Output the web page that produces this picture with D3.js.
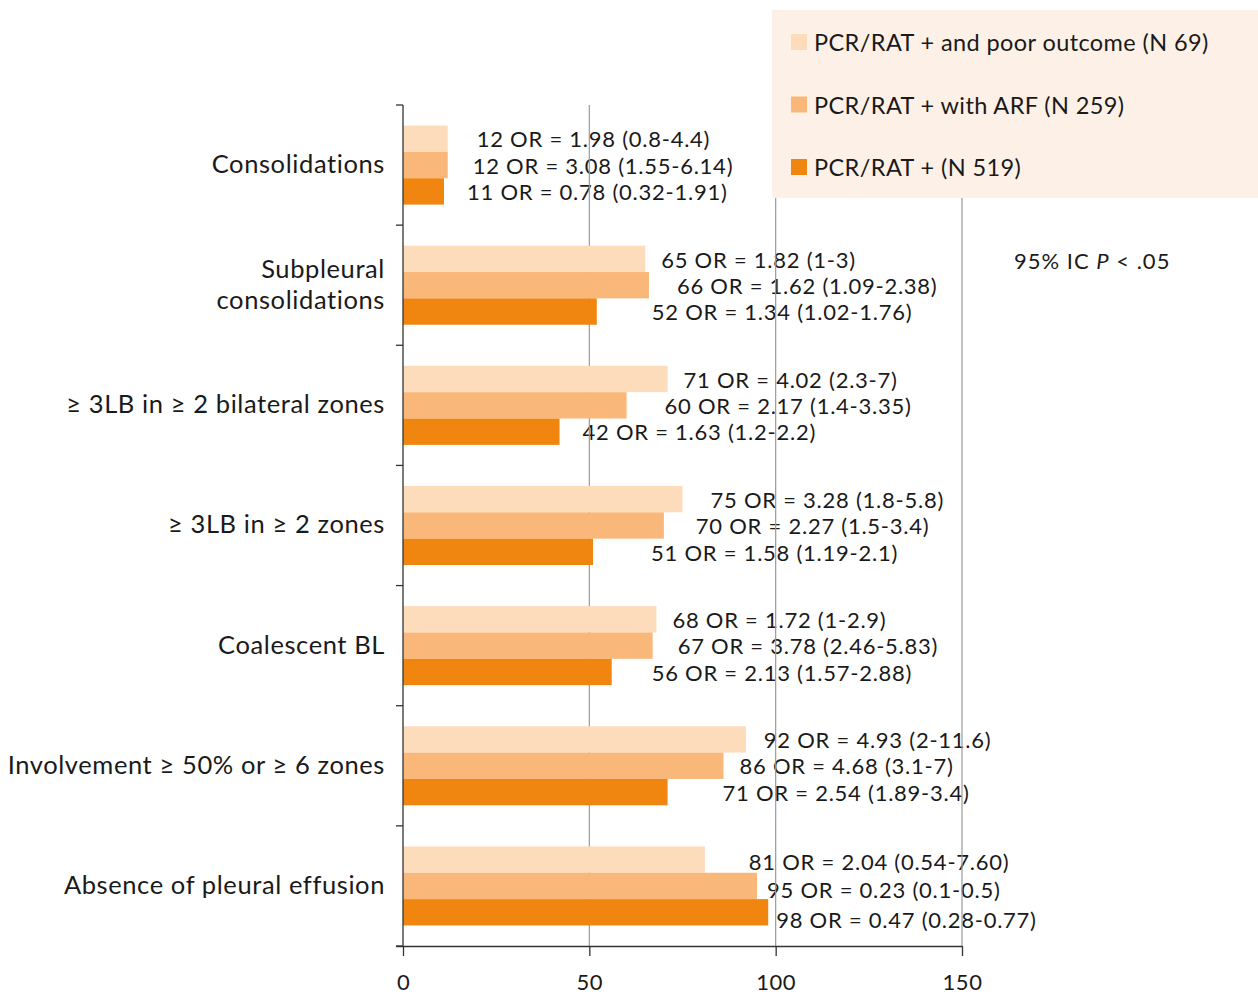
<!DOCTYPE html>
<html>
<head>
<meta charset="utf-8">
<script src="https://cdn.jsdelivr.net/npm/d3@7"></script>
<style>
  body { margin: 0; background: #fff; }
  svg { display: block; font-family: Lato, "Open Sans", sans-serif; }
</style>
</head>
<body>
<svg id="chart" width="1258" height="995"></svg>
<script>
// Lung ultrasound findings: percentage of patients and odds ratios
const categories = [
  "Consolidations",
  "Subpleural\nconsolidations",
  "\u2265 3LB in \u2265 2 bilateral zones",
  "\u2265 3LB in \u2265 2 zones",
  "Coalescent BL",
  "Involvement \u2265 50% or \u2265 6 zones",
  "Absence of pleural effusion"
];
const seriesNames = [
  "PCR/RAT + and poor outcome (N 69)",
  "PCR/RAT + with ARF (N 259)",
  "PCR/RAT + (N 519)"
];
const poorOutcome = [12, 65, 71, 75, 68, 92, 81];
const withARF     = [12, 66, 60, 70, 67, 86, 95];
const allPositive = [11, 52, 42, 51, 56, 71, 98];

const orPoor = ["OR = 1.98 (0.8-4.4)", "OR = 1.82 (1-3)", "OR = 4.02 (2.3-7)", "OR = 3.28 (1.8-5.8)",
                "OR = 1.72 (1-2.9)", "OR = 4.93 (2-11.6)", "OR = 2.04 (0.54-7.60)"];
const orARF  = ["OR = 3.08 (1.55-6.14)", "OR = 1.62 (1.09-2.38)", "OR = 2.17 (1.4-3.35)", "OR = 2.27 (1.5-3.4)",
                "OR = 3.78 (2.46-5.83)", "OR = 4.68 (3.1-7)", "OR = 0.23 (0.1-0.5)"];
const orAll  = ["OR = 0.78 (0.32-1.91)", "OR = 1.34 (1.02-1.76)", "OR = 1.63 (1.2-2.2)", "OR = 1.58 (1.19-2.1)",
                "OR = 2.13 (1.57-2.88)", "OR = 2.54 (1.89-3.4)", "OR = 0.47 (0.28-0.77)"];

const xTicks = [0, 50, 100, 150];
const colors = ["#fddcbb", "#f9b87a", "#f08610"];

// label placement (px gap after bar end, vertical nudge), per series and category
const labelGap = [
  [29, 16, 16, 28, 16, 18, 44],
  [25, 28, 38, 32, 25, 16, 10],
  [23, 55, 23, 58, 40, 55, 8]
];
const labelDy = [
  [1, 1, 1, 1, 1, 1, 3],
  [1, 1, 1, 1, 1, 1, 4],
  [1, 1, 1, 1, 1, 1, 8]
];

const values = [poorOutcome, withARF, allPositive];
const orTexts = [orPoor, orARF, orAll];

const svg = d3.select("#chart");
const plotLeft = 403, plotRight = 962, plotTop = 105, plotBottom = 946;
const ink = "#1a1a1a";

const x = d3.scaleLinear().domain([0, 150]).range([plotLeft, plotRight]);
const y0 = d3.scaleBand().domain(d3.range(categories.length)).range([plotTop, plotBottom]);
const y1 = d3.scaleBand().domain(d3.range(seriesNames.length))
  .range([0, y0.bandwidth()]).paddingInner(0).paddingOuter(0.78);

// value + odds ratio labels
const labels = svg.append("g").attr("font-size", 22).attr("letter-spacing", 0.75).attr("fill", ink);
values.forEach((vals, s) => {
  vals.forEach((v, c) => {
    labels.append("text")
      .attr("x", x(v) + labelGap[s][c])
      .attr("y", y0(c) + y1(s) + y1.bandwidth() / 2 + labelDy[s][c])
      .attr("dy", "0.35em")
      .text(v + " " + orTexts[s][c]);
  });
});

// vertical gridlines
svg.append("g").selectAll("line").data(xTicks.slice(1)).join("line")
  .attr("x1", d => x(d)).attr("x2", d => x(d))
  .attr("y1", plotTop).attr("y2", plotBottom)
  .attr("stroke", "#9a9a9a").attr("stroke-width", 1.2);

// bars
values.forEach((vals, s) => {
  svg.append("g").selectAll("rect").data(vals).join("rect")
    .attr("x", x(0))
    .attr("y", (d, c) => y0(c) + y1(s))
    .attr("width", d => x(d) - x(0))
    .attr("height", y1.bandwidth())
    .attr("fill", colors[s]);
});

// y axis: line with ticks at category boundaries
const yAxis = svg.append("g");
yAxis.append("line").attr("x1", plotLeft).attr("x2", plotLeft).attr("y1", plotTop).attr("y2", plotBottom)
  .attr("stroke", "#333").attr("stroke-width", 1.3);
yAxis.selectAll("line.tick").data(d3.range(categories.length + 1)).join("line")
  .attr("class", "tick")
  .attr("x1", plotLeft - 7).attr("x2", plotLeft)
  .attr("y1", i => plotTop + i * y0.step()).attr("y2", i => plotTop + i * y0.step())
  .attr("stroke", "#333").attr("stroke-width", 1.3);

// category labels
categories.forEach((cat, c) => {
  const lines = cat.split("\n");
  const cy = y0(c) + y0.bandwidth() / 2;
  const lh = 31;
  const t = svg.append("text").attr("text-anchor", "end").attr("font-size", 25.5)
    .attr("letter-spacing", 0.6).attr("fill", ink);
  lines.forEach((ln, k) => {
    t.append("tspan").attr("x", 385)
      .attr("y", cy - 1 + (k - (lines.length - 1) / 2) * lh)
      .attr("dy", "0.35em").text(ln);
  });
});

// x axis
const xAxis = d3.axisBottom(x).tickValues(xTicks).tickSize(10).tickSizeOuter(0).tickPadding(18);
const gx = svg.append("g").attr("transform", `translate(0,${plotBottom})`).call(xAxis);
gx.select(".domain").attr("stroke", "#333").attr("stroke-width", 1.3).attr("d", `M${plotLeft - 7},0.5H${plotRight}`);
gx.selectAll(".tick line").attr("stroke", "#333").attr("stroke-width", 1.3);
gx.selectAll(".tick text").attr("font-size", 22).attr("letter-spacing", 0.5).attr("fill", ink)
  .attr("font-family", "Lato, 'Open Sans', sans-serif");

// significance note
const note = svg.append("text").attr("x", 1014).attr("y", 261).attr("dy", "0.35em")
  .attr("font-size", 22).attr("letter-spacing", 1).attr("fill", ink);
note.append("tspan").text("95% IC ");
note.append("tspan").attr("font-style", "italic").text("P");
note.append("tspan").text(" < .05");

// legend panel (drawn over the gridlines)
const legend = svg.append("g");
legend.append("rect").attr("x", 772).attr("y", 10).attr("width", 486).attr("height", 188)
  .attr("fill", "#fdf1e7");
seriesNames.forEach((name, i) => {
  const cy = 42 + i * 62.5;
  legend.append("rect").attr("x", 791).attr("y", cy - 8).attr("width", 16).attr("height", 16)
    .attr("fill", colors[i]);
  legend.append("text").attr("x", 814).attr("y", cy + 1).attr("dy", "0.35em")
    .attr("font-size", 23.5).attr("letter-spacing", 0.4).attr("fill", ink).text(name);
});
</script>
</body>
</html>
